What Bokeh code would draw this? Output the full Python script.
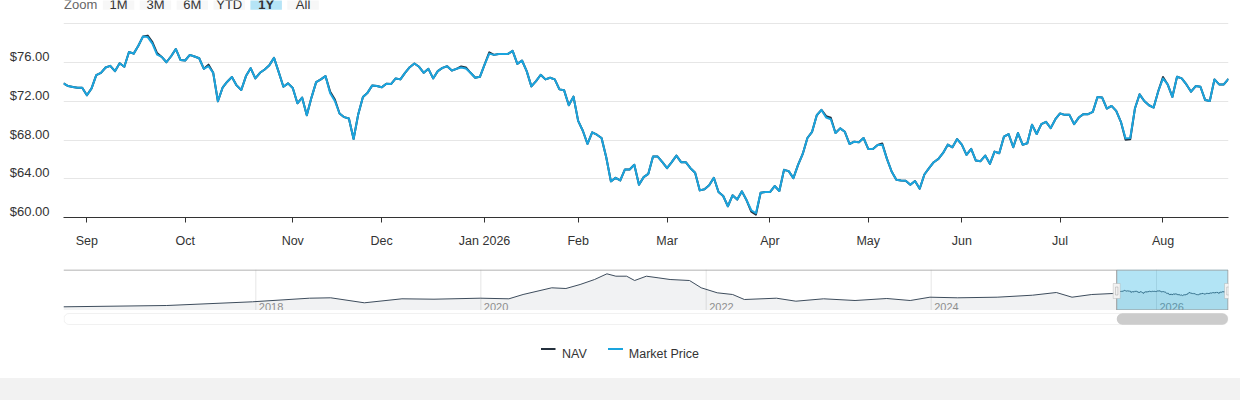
import pandas as pd
from bokeh.plotting import figure
from bokeh.layouts import column
from bokeh.models import Range1d, FixedTicker, CustomJSTickFormatter, ColumnDataSource, BoxAnnotation, Div
from bokeh.core.properties import value
from bokeh.embed import file_html
from bokeh.resources import INLINE

# ---------------- data ----------------
series_names = ["NAV", "Market Price"]

market_price = [
    73.85, 73.57, 73.47, 73.40, 73.40, 72.62, 73.33, 74.70, 74.94, 75.49,
    75.66, 75.11, 75.93, 75.56, 77.09, 76.92, 77.74, 78.70, 78.63, 77.95,
    76.82, 76.58, 76.03, 76.65, 77.40, 76.27, 76.21, 76.79, 76.62, 76.44,
    75.35, 75.62, 74.94, 72.00, 73.40, 74.02, 74.50, 73.64, 73.16, 74.60,
    75.42, 74.36, 74.94, 75.28, 75.73, 76.48, 75.01, 73.50, 73.85, 73.37,
    71.79, 72.38, 70.56, 72.38, 73.98, 74.26, 74.60, 72.82, 72.03, 70.74,
    70.36, 70.22, 68.10,
    70.67, 72.44, 72.89, 73.64, 73.57, 73.44, 73.81, 73.78, 74.36, 74.26,
    74.94, 75.52, 75.90, 75.56, 74.94, 75.35, 74.36, 75.11, 75.45, 75.62,
    75.18, 75.35, 75.49, 75.38, 74.94, 74.43, 74.53, 75.79, 76.92, 76.79,
    76.89, 76.89, 76.89, 77.20, 75.86, 76.21, 75.11, 73.54, 74.09, 74.74,
    74.26, 74.43, 74.26, 73.23, 73.13, 71.59, 72.48, 69.98, 68.96, 67.59,
    68.79, 68.55, 68.21, 66.22, 63.73, 64.10, 63.83, 64.96, 64.96, 65.44,
    63.38, 64.17,
    64.51, 66.29, 66.29, 65.71, 65.09, 65.71, 66.39, 65.71, 65.71, 65.09,
    64.62, 62.80, 62.91, 63.32, 64.10, 62.63, 62.22, 61.16, 62.29, 61.85,
    62.70, 61.78, 60.75, 60.44, 62.56, 62.63, 62.63, 63.25, 62.74, 64.92,
    64.79, 64.07, 65.44, 66.56, 68.21, 68.85, 70.56, 71.11, 70.32, 70.15,
    68.72, 69.20, 68.85, 67.59, 67.83, 67.76, 68.21, 67.08, 67.08, 67.49,
    67.52, 66.05, 64.75, 63.90, 63.83, 63.79, 63.38, 63.76, 62.97, 64.44,
    65.09, 65.71,
    66.05, 66.67, 67.52, 67.25, 68.10, 67.52, 66.46, 67.08, 65.88, 65.81,
    66.39, 65.54, 66.80, 66.63, 68.34, 68.62, 67.25, 68.72, 67.52, 67.66,
    69.57, 68.62, 69.64, 69.88, 69.23, 70.15, 70.74, 70.60, 70.60, 69.64,
    70.32, 70.67, 70.67, 70.91, 72.44, 72.38, 71.25, 71.52, 71.01, 69.88,
    68.17, 68.21, 71.25, 72.72, 72.03, 71.59, 71.35, 73.06, 74.36, 73.74,
    72.44, 74.53, 74.36, 73.74, 72.99, 73.57, 73.50, 72.14, 72.03, 74.26,
    73.74, 73.74, 74.32,
]

# NAV differs visibly from the market price only at a few points
nav_overrides = {18: 78.78, 19: 78.10, 20: 76.98, 31: 75.78, 57: 72.97, 58: 72.18,
                 85: 75.60, 86: 75.50, 91: 77.05, 147: 60.60, 148: 60.30,
                 163: 70.47, 164: 70.30, 175: 67.64, 227: 68.02, 228: 68.08, 235: 74.50}

start_date = "2025-08-25"
market_holidays = ["2025-09-01", "2025-11-27", "2025-12-25", "2026-01-01", "2026-01-19",
                   "2026-02-16", "2026-04-03", "2026-05-25", "2026-06-19", "2026-07-03"]

y_ticks = [60, 64, 68, 72, 76, 80]

# navigator history (NAV, before the 1Y window)
hist_dates = ["2016-04-17", "2017-03-18", "2017-12-21", "2018-06-24", "2018-09-01",
              "2018-12-19", "2019-04-20", "2019-08-02", "2019-12-30", "2020-04-01",
              "2020-05-17", "2020-08-18", "2020-10-03", "2020-11-18", "2021-01-04",
              "2021-02-13", "2021-03-14", "2021-04-18", "2021-05-14", "2021-06-21",
              "2021-07-29", "2021-09-06", "2021-11-08", "2021-12-16", "2022-02-06",
              "2022-03-28", "2022-05-05", "2022-08-17", "2022-10-19", "2023-01-17",
              "2023-04-29", "2023-08-10", "2023-10-25", "2023-12-28", "2024-03-27",
              "2024-08-02", "2024-11-25", "2025-02-10", "2025-04-02", "2025-06-05",
              "2025-08-12"]
hist_nav = [19.85, 24.5, 37.85, 50.8, 52.25, 34.25, 48.65, 47.2, 50.8, 48.65,
            64.1, 88.25, 85.7, 100.1, 118.1, 138.6, 130.0, 130.0, 114.5, 130.0,
            124.25, 118.1, 114.5, 88.25, 70.25, 64.1, 46.1, 50.8, 40.0, 48.65,
            42.5, 49.7, 42.5, 54.4, 52.25, 54.4, 61.6, 71.3, 54.4, 64.1, 67.7]
nav_years = [2018, 2020, 2022, 2024, 2026]

zoom_label = "Zoom"
zoom_buttons = ["1M", "3M", "6M", "YTD", "1Y", "All"]
selected_button = "1Y"

# ---------------- styles ----------------
FONT = "Liberation Sans"
TEXT = "#333333"
NAV_COLOR = "#24303d"
MKT_COLOR = "#1aa4de"
GRID = "#e6e6e6"
W = 1240
FL, FR = 63, 1228          # frame left / right (page px), shared by all figures
BL, BR = FL, W - FR

nav_price = list(market_price)
for k, v in nav_overrides.items():
    nav_price[k] = v
n = len(market_price)
dates = pd.bdate_range(start=start_date, periods=n, freq="C", holidays=market_holidays)


def bare(fig):
    fig.outline_line_color = None
    fig.background_fill_color = "white"
    fig.border_fill_color = "white"
    for g in fig.grid:
        g.visible = False
    return fig


# ---------------- header (range selector, scrolled off) ----------------
hdr = bare(figure(width=W, height=20, x_range=Range1d(FL, FR), y_range=Range1d(20, 0),
                  output_backend="svg", toolbar_location=None,
                  min_border_left=BL, min_border_right=BR, min_border_top=0, min_border_bottom=0,
                  x_axis_location=None, y_axis_location=None))
b_left0, b_pitch, b_w = 102.3, 36.9, 31.5
lefts = [b_left0 + k * b_pitch for k in range(len(zoom_buttons))]
bsrc = ColumnDataSource(dict(
    left=lefts, right=[l + b_w for l in lefts], cx=[l + b_w / 2 for l in lefts],
    text=zoom_buttons,
    fill=["#b5e4f6" if b == selected_button else "#f7f7f7" for b in zoom_buttons],
    style=["bold" if b == selected_button else "normal" for b in zoom_buttons]))
hdr.quad(left="left", right="right", top=-14, bottom=9.3, fill_color="fill", line_color=None, source=bsrc)
hdr.text(x="cx", y=4, text="text", source=bsrc, text_align="center", text_baseline="alphabetic",
         text_font=value(FONT), text_font_size="13px", text_color=TEXT, text_font_style="style")
hdr.text(x=[63.5], y=[4], text=[zoom_label], text_align="left", text_baseline="alphabetic",
         text_font=value(FONT), text_font_size="13px", text_color="#666666")

# ---------------- main chart ----------------
YPX = 9.685  # pixels per dollar
p = figure(width=W, height=238, x_range=Range1d(0, n - 1), y_range=Range1d(60, 60 + 197 / YPX),
           output_backend="svg", toolbar_location=None,
           min_border_left=BL, min_border_right=BR, min_border_top=0, min_border_bottom=41)
p.outline_line_color = None
p.background_fill_color = "white"
p.border_fill_color = "white"

src = ColumnDataSource(dict(i=list(range(n)), nav=nav_price, mkt=market_price))
p.line("i", "nav", source=src, line_color=NAV_COLOR, line_width=2, line_join="round")
p.line("i", "mkt", source=src, line_color=MKT_COLOR, line_width=2, line_join="round")

month_ticks, month_labels = [], {}
for i in range(1, n):
    if dates[i].month != dates[i - 1].month:
        month_ticks.append(i)
        month_labels[i] = dates[i].strftime("%b %Y") if dates[i].month == 1 else dates[i].strftime("%b")

p.xaxis.ticker = FixedTicker(ticks=month_ticks)
p.xaxis.major_label_overrides = month_labels
p.xaxis.axis_line_color = "#333333"
p.xaxis.major_tick_line_color = "#333333"
p.xaxis.major_tick_out = 5
p.xaxis.major_tick_in = 0
p.xaxis.minor_tick_line_color = None
p.xaxis.major_label_standoff = 11
p.xaxis.major_label_text_font = FONT
p.xaxis.major_label_text_font_size = "12.5px"
p.xaxis.major_label_text_color = TEXT

lab_off = 6 / YPX
p.yaxis.ticker = FixedTicker(ticks=[t + lab_off for t in y_ticks[:-1]])
p.yaxis.formatter = CustomJSTickFormatter(code="return '$' + (tick - %f).toFixed(2);" % lab_off)
p.yaxis.axis_line_color = None
p.yaxis.major_tick_line_color = None
p.yaxis.major_tick_out = 0
p.yaxis.major_tick_in = 0
p.yaxis.minor_tick_line_color = None
p.yaxis.minor_tick_out = 0
p.yaxis.major_label_standoff = 14
p.yaxis.major_label_text_font = FONT
p.yaxis.major_label_text_font_size = "13px"
p.yaxis.major_label_text_color = TEXT

p.xgrid.visible = False
p.ygrid.ticker = FixedTicker(ticks=y_ticks)
p.ygrid.grid_line_color = GRID

# ---------------- navigator ----------------
hist_ms = [pd.Timestamp(d).value / 1e6 for d in hist_dates]
one_ms = [t.value / 1e6 for t in dates]
nav_x = hist_ms + one_ms
nav_y = hist_nav + nav_price

NX_DATA_END = 1227.5
mpp = (one_ms[-1] - hist_ms[0]) / (NX_DATA_END - FL)
nx0 = hist_ms[0]
nx1 = nx0 + (FR - FL) * mpp


def nval(ypage):
    return 73.85 + (291.3 - ypage) * 3.6


ny0, ny1 = nval(310), nval(269)
nv = bare(figure(width=W, height=52, x_range=Range1d(nx0, nx1), y_range=Range1d(ny0, ny1),
                 output_backend="svg", toolbar_location=None,
                 min_border_left=BL, min_border_right=BR, min_border_top=11, min_border_bottom=0,
                 x_axis_location=None, y_axis_location=None))
year_ms = [pd.Timestamp(f"{y}-01-01").value / 1e6 for y in nav_years]
nv.segment(x0=year_ms, x1=year_ms, y0=ny0, y1=ny1, line_color=GRID, line_width=1)
nv.varea(x=nav_x, y1=ny0, y2=nav_y, fill_color="#2f3f50", fill_alpha=0.065)
nv.line(nav_x, nav_y, line_color="#3d4c5c", line_width=1)
nv.text(x=year_ms, y=ny0, text=[str(y) for y in nav_years], x_offset=3, y_offset=-3.5,
        text_align="left", text_baseline="alphabetic", text_font=value(FONT),
        text_font_size="11px", text_color="#8f8f8f")
m0, m1 = one_ms[0], one_ms[-1]
nv.quad(left=m0, right=m1, bottom=ny0, top=ny1, fill_color="rgb(0,165,222)", fill_alpha=0.3, line_color=None)
nv.line([nx0, m1], [nval(269.5)] * 2, line_color="#999999", line_width=1)
nv.line([m0, m0, m1, m1], [nval(269.5), nval(309.5), nval(309.5), nval(269.5)], line_color="#999999", line_width=1)
for hx in (m0, m1):
    nv.add_layout(BoxAnnotation(left=hx - 3.5 * mpp, right=hx + 3.5 * mpp, top=nval(283), bottom=nval(298),
                                fill_color="#f2f2f2", fill_alpha=1, line_color="#999999", line_width=1))
    nv.add_layout(BoxAnnotation(left=hx - 1.2 * mpp, right=hx + 1.2 * mpp, top=nval(286.5), bottom=nval(294.5),
                                fill_color="#f2f2f2", fill_alpha=1, line_color="#777777", line_width=1))

# ---------------- scrollbar and legend ----------------
ft = bare(figure(width=W, height=68, x_range=Range1d(FL, FR), y_range=Range1d(378, 310),
                 output_backend="svg", toolbar_location=None,
                 min_border_left=BL, min_border_right=BR, min_border_top=0, min_border_bottom=0,
                 x_axis_location=None, y_axis_location=None))
thumb_l = FL + (m0 - nx0) / mpp
thumb_r = FL + (m1 - nx0) / mpp
ft.add_layout(BoxAnnotation(left=63.5, right=1227.5, top=313, bottom=324, fill_color="white", fill_alpha=1,
                            line_color="#d0d0d0", line_width=1, border_radius=5))
ft.add_layout(BoxAnnotation(left=thumb_l, right=thumb_r, top=312.8, bottom=324.2, fill_color="#cccccc",
                            fill_alpha=1, line_color=None, border_radius=6))
ft.segment(x0=[540.5, 607.5], x1=[555, 622.5], y0=348.5, y1=348.5,
           line_color=[NAV_COLOR, MKT_COLOR], line_width=2)
ft.text(x=[561.5, 628.3], y=[353.3, 353.3], text=series_names, text_align="left",
        text_baseline="alphabetic", text_font=value(FONT), text_font_size="12.5px", text_color=TEXT)

band = Div(text="", width=W, height=22, margin=0, styles={"background-color": "#f2f2f2"})

root = column(hdr, p, nv, ft, band, spacing=0)
open("out.html", "w").write(file_html(root, INLINE))
